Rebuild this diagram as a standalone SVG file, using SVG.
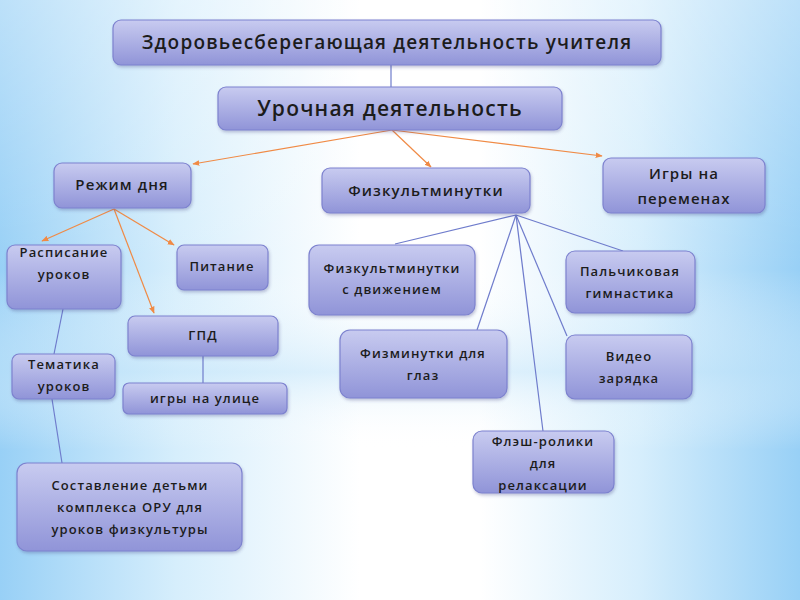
<svg xmlns="http://www.w3.org/2000/svg" width="800" height="600" viewBox="0 0 800 600">
<defs>
  <linearGradient id="bgH" x1="0" y1="0" x2="1" y2="0">
    <stop offset="0" stop-color="#98d0f6"/>
    <stop offset="0.22" stop-color="#d6eefc"/>
    <stop offset="0.45" stop-color="#ffffff"/>
    <stop offset="0.6" stop-color="#ffffff"/>
    <stop offset="0.8" stop-color="#d6eefc"/>
    <stop offset="1" stop-color="#98d0f6"/>
  </linearGradient>
  <linearGradient id="bgV" x1="0" y1="0" x2="0" y2="1">
    <stop offset="0" stop-color="#ffffff" stop-opacity="0.35"/>
    <stop offset="0.45" stop-color="#ffffff" stop-opacity="0"/>
    <stop offset="0.62" stop-color="#c6e6fa" stop-opacity="0.55"/>
    <stop offset="0.68" stop-color="#e6f4fd" stop-opacity="0.3"/>
    <stop offset="0.75" stop-color="#ffffff" stop-opacity="0"/>
    <stop offset="1" stop-color="#ffffff" stop-opacity="0"/>
  </linearGradient>
  <linearGradient id="nodeFill" x1="0" y1="0" x2="0" y2="1">
    <stop offset="0" stop-color="#c8cbf0"/>
    <stop offset="1" stop-color="#9094d8"/>
  </linearGradient>
  <filter id="sh" x="-10%" y="-10%" width="120%" height="130%">
    <feDropShadow dx="1" dy="2" stdDeviation="1.5" flood-color="#404080" flood-opacity="0.3"/>
  </filter>
  <marker id="arr" viewBox="0 0 10 10" refX="9" refY="5" markerWidth="7" markerHeight="7" orient="auto" markerUnits="userSpaceOnUse">
    <path d="M0,1 L10,5 L0,9 z" fill="#f08a45"/>
  </marker>
  <style>
    .n rect { fill: url(#nodeFill); stroke: #7d82cf; stroke-width: 1.2; filter: url(#sh); }
    .n text { font-family: "Open Sans", "DejaVu Sans", sans-serif; fill: #1c1c1c; text-anchor: middle; font-weight: 600; letter-spacing: 1.1px; }
    .t13 { font-size: 13px; }
    .or { stroke: #f08a45; stroke-width: 1.2; fill: none; marker-end: url(#arr); }
    .bl { stroke: #6f7ccc; stroke-width: 1.2; fill: none; }
  </style>
</defs>
<rect width="800" height="600" fill="url(#bgH)"/>
<rect width="800" height="600" fill="url(#bgV)"/>

<g id="connectors">
  <line class="bl" x1="391" y1="65" x2="391" y2="87"/>
  <line class="or" x1="392" y1="130" x2="193" y2="164"/>
  <line class="or" x1="392" y1="130" x2="431" y2="167"/>
  <line class="or" x1="392" y1="130" x2="602" y2="156"/>
  <line class="or" x1="114" y1="209" x2="42" y2="241"/>
  <line class="or" x1="114" y1="209" x2="174" y2="245"/>
  <line class="or" x1="114" y1="209" x2="154" y2="313"/>
  <line class="bl" x1="63" y1="309" x2="54" y2="354"/>
  <line class="bl" x1="52" y1="399" x2="62" y2="463"/>
  <line class="bl" x1="203" y1="356" x2="203" y2="383"/>
  <line class="bl" x1="516" y1="215" x2="395" y2="244"/>
  <line class="bl" x1="516" y1="215" x2="623" y2="251"/>
  <line class="bl" x1="516" y1="215" x2="477" y2="330"/>
  <line class="bl" x1="516" y1="215" x2="567" y2="336"/>
  <line class="bl" x1="516" y1="215" x2="543" y2="431"/>
</g>

<g id="n-top" class="n">
  <rect x="113" y="20" width="548" height="45" rx="8"/>
  <text x="387" y="49" font-size="19" style="letter-spacing:1.2px">Здоровьесберегающая деятельность учителя</text>
</g>
<g id="n-lesson" class="n">
  <rect x="218" y="87" width="344" height="43" rx="8"/>
  <text x="390" y="116" font-size="21" style="letter-spacing:1.2px">Урочная деятельность</text>
</g>
<g id="n-regime" class="n">
  <rect x="54" y="163" width="137" height="45" rx="8"/>
  <text x="122" y="190" font-size="15">Режим дня</text>
</g>
<g id="n-fizk" class="n">
  <rect x="322" y="168" width="208" height="45" rx="8"/>
  <text x="426" y="196" font-size="15">Физкультминутки</text>
</g>
<g id="n-games" class="n">
  <rect x="603" y="158" width="162" height="55" rx="8"/>
  <text x="684" y="179" font-size="15">Игры на</text>
  <text x="684" y="204" font-size="15">переменах</text>
</g>
<g id="n-schedule" class="n">
  <rect x="7" y="245" width="114" height="64" rx="8"/>
  <text class="t13" x="64" y="257">Расписание</text>
  <text class="t13" x="64" y="279">уроков</text>
</g>
<g id="n-food" class="n">
  <rect x="177" y="245" width="91" height="45" rx="7"/>
  <text class="t13" x="222" y="271">Питание</text>
</g>
<g id="n-gpd" class="n">
  <rect x="128" y="316" width="150" height="40" rx="7"/>
  <text class="t13" x="203" y="340">ГПД</text>
</g>
<g id="n-outdoor" class="n">
  <rect x="123" y="383" width="164" height="31" rx="6"/>
  <text class="t13" x="205" y="403">игры на улице</text>
</g>
<g id="n-themes" class="n">
  <rect x="12" y="354" width="103" height="45" rx="7"/>
  <text class="t13" x="64" y="369">Тематика</text>
  <text class="t13" x="64" y="391">уроков</text>
</g>
<g id="n-oru" class="n">
  <rect x="17" y="463" width="225" height="88" rx="10"/>
  <text class="t13" x="130" y="490">Составление детьми</text>
  <text class="t13" x="130" y="512">комплекса ОРУ для</text>
  <text class="t13" x="130" y="534">уроков физкультуры</text>
</g>
<g id="n-move" class="n">
  <rect x="309" y="245" width="166" height="70" rx="10"/>
  <text class="t13" x="392" y="273">Физкультминутки</text>
  <text class="t13" x="392" y="294">с движением</text>
</g>
<g id="n-finger" class="n">
  <rect x="566" y="251" width="129" height="62" rx="9"/>
  <text class="t13" x="630" y="276">Пальчиковая</text>
  <text class="t13" x="630" y="298">гимнастика</text>
</g>
<g id="n-eyes" class="n">
  <rect x="340" y="330" width="167" height="68" rx="10"/>
  <text class="t13" x="423" y="358">Физминутки для</text>
  <text class="t13" x="423" y="380">глаз</text>
</g>
<g id="n-video" class="n">
  <rect x="566" y="335" width="126" height="64" rx="9"/>
  <text class="t13" x="629" y="361">Видео</text>
  <text class="t13" x="629" y="383">зарядка</text>
</g>
<g id="n-flash" class="n">
  <rect x="473" y="431" width="141" height="62" rx="9"/>
  <text class="t13" x="543" y="446">Флэш-ролики</text>
  <text class="t13" x="543" y="468">для</text>
  <text class="t13" x="543" y="490">релаксации</text>
</g>
</svg>
